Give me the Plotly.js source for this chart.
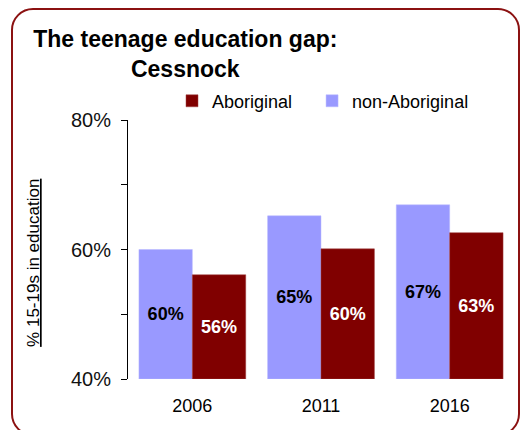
<!DOCTYPE html>
<html>
<head>
<meta charset="utf-8">
<script src="https://cdn.plot.ly/plotly-3.0.1.min.js"></script>
<style>
  html, body { margin: 0; padding: 0; background: #fff; }
  #wrap { position: relative; width: 531px; height: 430px; overflow: hidden; }
  #chart { position: absolute; left: 0; top: 0; width: 531px; height: 430px; }
  #frame { position: absolute; left: 11px; top: 8px; width: 505px; height: 424px;
           border: 2px solid #8B1111; border-radius: 22px; pointer-events: none; }
</style>
</head>
<body>
<div id="wrap">
  <div id="chart"></div>
  <div id="frame"></div>
</div>
<script>
const years = ['2006', '2011', '2016'];
const nonAboriginal = [60.0, 65.2, 66.9];
const aboriginal = [56.1, 60.1, 62.6];
const seriesNames = ['non-Aboriginal', 'Aboriginal\u00a0\u00a0\u00a0'];
const yTicks = [40, 60, 80];
const axisFloor = 40;

const FONT = 'Arial, "Liberation Sans", sans-serif';

function labels(vals) { return vals.map(v => '<b>' + Math.round(v) + '%</b>'); }

const traces = [
  {
    type: 'bar', name: seriesNames[0], x: years,
    base: axisFloor, y: nonAboriginal.map(v => v - axisFloor),
    marker: { color: '#9999FF', line: { color: '#B8B8FF', width: 0.5 } },
    text: labels(nonAboriginal), textposition: 'inside', insidetextanchor: 'middle',
    insidetextfont: { family: FONT, size: 18, color: '#000' },
    hoverinfo: 'skip'
  },
  {
    type: 'bar', name: seriesNames[1], x: years,
    base: axisFloor, y: aboriginal.map(v => v - axisFloor),
    marker: { color: '#800000', line: { color: '#A04040', width: 0.5 } },
    text: labels(aboriginal), textposition: 'inside', insidetextanchor: 'middle',
    insidetextfont: { family: FONT, size: 18, color: '#fff' },
    hoverinfo: 'skip'
  }
];

const layout = {
  width: 531, height: 430,
  margin: { l: 128, r: 17, t: 120, b: 51 },
  paper_bgcolor: '#fff', plot_bgcolor: '#fff',
  font: { family: FONT, color: '#000' },
  barmode: 'group', bargap: 0.17, bargroupgap: 0,
  title: {
    text: '<b>The teenage education gap:<br>Cessnock</b>',
    font: { family: FONT, size: 23, color: '#000' },
    x: 0.349, xref: 'container', xanchor: 'center',
    y: 0.891, yref: 'container', yanchor: 'top'
  },
  showlegend: true,
  legend: {
    orientation: 'h', traceorder: 'reversed',
    x: 0.114, xanchor: 'left', y: 1.073, yanchor: 'middle',
    font: { family: FONT, size: 18, color: '#000' },
    itemwidth: 30,
    bgcolor: 'rgba(0,0,0,0)'
  },
  xaxis: {
    type: 'category', showline: false, ticks: '', showgrid: false, zeroline: false,
    tickfont: { family: FONT, size: 18, color: '#000' }, range: [-0.5, 2.5],
    ticklabelstandoff: 14
  },
  yaxis: {
    range: [40, 80], tickvals: yTicks, ticktext: yTicks.map(v => v + '%'),
    showline: true, linecolor: '#000', linewidth: 1,
    ticks: 'outside', ticklen: 6, tickcolor: '#000',
    minor: { tickvals: [50, 70], ticks: 'outside', ticklen: 6, tickcolor: '#000' },
    showgrid: false, zeroline: false,
    tickfont: { family: FONT, size: 20, color: '#111' }, ticklabelstandoff: 6
  },
  annotations: [
    {
      text: '<span style="text-decoration:underline">% 15-19s in education</span>',
      xref: 'paper', yref: 'paper', x: -0.245, y: 0.45,
      xanchor: 'center', yanchor: 'middle', textangle: -90, showarrow: false,
      font: { family: FONT, size: 17, color: '#000' }
    }
  ]
};

Plotly.newPlot('chart', traces, layout, { displayModeBar: false, staticPlot: true });
</script>
</body>
</html>
